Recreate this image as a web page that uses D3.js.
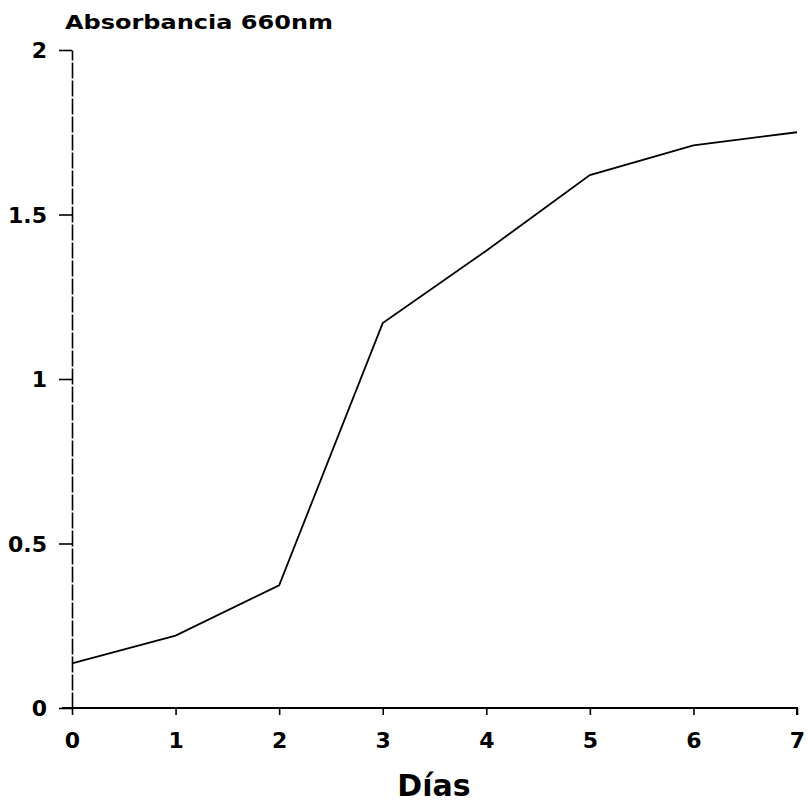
<!DOCTYPE html>
<html>
<head>
<meta charset="utf-8">
<script src="https://cdn.jsdelivr.net/npm/d3@7"></script>
<style>
  body { margin: 0; background: #fff; }
  svg { display: block; }
  text { font-family: "DejaVu Sans", sans-serif; font-weight: bold; fill: #000; }
</style>
</head>
<body>
<div></div>
<script>
const dias = [0, 1, 2, 3, 4, 5, 6, 7];
const absorbancia = [0.136, 0.22, 0.373, 1.17, 1.39, 1.62, 1.71, 1.75];
const yTicks = [0, 0.5, 1, 1.5, 2];
const yTickLabels = ["0", "0.5", "1", "1.5", "2"];
const xTicks = [0, 1, 2, 3, 4, 5, 6, 7];

const width = 808, height = 802;

const svg = d3.select('div')
    .append('svg')
    .attr('width', width)
    .attr('height', height);

const x = d3.scaleLinear().domain([0, 7]).range([72, 797]);
const y = d3.scaleLinear().domain([0, 2]).range([708, 50]);

// y axis, ticks to the left
const yAxis = d3.axisLeft(y)
    .tickValues(yTicks)
    .tickSize(13)
    .tickSizeOuter(0)
    .tickFormat((d, i) => yTickLabels[i])
    .tickPadding(12);

const gy = svg.append('g')
    .attr('transform', `translate(${x(0)},0)`)
    .call(yAxis);
gy.attr('font-family', null).attr('font-size', null);
gy.select('.domain').attr('stroke-width', 1.6).attr('stroke-dasharray', '16,2');
gy.selectAll('.tick line').attr('stroke-width', 1.6);
gy.selectAll('.tick text').style('font-size', '22px').attr('dy', '0.36em');

// x axis, ticks down
const xAxis = d3.axisBottom(x)
    .tickValues(xTicks)
    .tickSize(7)
    .tickSizeOuter(7)
    .tickFormat(d3.format('d'))
    .tickPadding(17);

const gx = svg.append('g')
    .attr('transform', `translate(0,${y(0)})`)
    .call(xAxis);
gx.attr('font-family', null).attr('font-size', null);
gx.select('.domain').attr('stroke-width', 2).attr('d', `M${x(0) - 10},0H${x(7)}V7`);
gx.selectAll('.tick line').attr('stroke-width', 1.6);
gx.selectAll('.tick text').style('font-size', '22px');

// curve
const line = d3.line()
    .x((d, i) => x(dias[i]))
    .y(d => y(d));

svg.append('path')
    .datum(absorbancia)
    .attr('fill', 'none')
    .attr('stroke', '#000')
    .attr('stroke-width', 1.8)
    .attr('d', line);

// titles
svg.append('text')
    .attr('x', 65)
    .attr('y', 29)
    .attr('textLength', 268)
    .attr('lengthAdjust', 'spacingAndGlyphs')
    .style('font-size', '19px')
    .text('Absorbancia 660nm');

svg.append('text')
    .attr('x', 434)
    .attr('y', 796)
    .attr('text-anchor', 'middle')
    .style('font-size', '30px')
    .text('Días');
</script>
</body>
</html>
